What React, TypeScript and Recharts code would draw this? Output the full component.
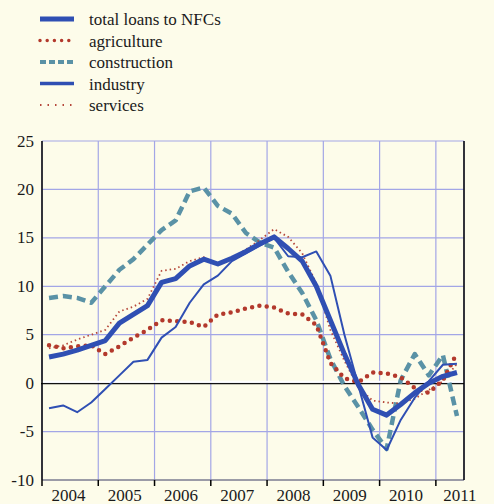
import { LineChart, Line, XAxis, YAxis, CartesianGrid, ReferenceLine, Legend } from 'recharts'

// Annual growth of loans to non-financial corporations, quarterly, 2004Q1 - 2011Q2
const years = ['2004', '2005', '2006', '2007', '2008', '2009', '2010', '2011']
const quarters = [
  '2004Q1', '2004Q2', '2004Q3', '2004Q4',
  '2005Q1', '2005Q2', '2005Q3', '2005Q4',
  '2006Q1', '2006Q2', '2006Q3', '2006Q4',
  '2007Q1', '2007Q2', '2007Q3', '2007Q4',
  '2008Q1', '2008Q2', '2008Q3', '2008Q4',
  '2009Q1', '2009Q2', '2009Q3', '2009Q4',
  '2010Q1', '2010Q2', '2010Q3', '2010Q4',
  '2011Q1', '2011Q2',
]

const totalLoans = [
  2.7, 3.0, 3.4, 3.9, 4.4, 6.2, 7.1, 8.0, 10.4, 10.8, 12.1, 12.8,
  12.3, 12.9, 13.6, 14.4, 15.1, 13.9, 12.6, 10.0, 6.5, 3.0, -0.2, -2.7,
  -3.3, -2.2, -1.0, 0.0, 0.7, 1.1,
]
const agriculture = [
  3.9, 3.6, 3.8, 3.9, 3.0, 3.8, 4.7, 5.5, 6.5, 6.4, 6.3, 5.8,
  7.1, 7.3, 7.7, 8.0, 7.8, 7.2, 7.1, 6.0, 2.1, 0.5, 0.1, 1.1,
  1.0, 0.6, -0.5, -1.0, 0.3, 3.1,
]
const construction = [
  8.8, 9.0, 8.8, 8.3, 10.0, 11.7, 12.8, 14.3, 15.8, 16.8, 19.8, 20.2,
  18.3, 17.5, 15.5, 14.5, 14.0, 11.5, 9.3, 6.5, 2.5, -0.3, -2.5, -4.8,
  -6.8, 0.3, 3.0, 0.8, 2.9, -3.4,
]
const industry = [
  -2.6, -2.3, -3.0, -2.0, -0.6, 0.8, 2.2, 2.4, 4.7, 5.8, 8.3, 10.2,
  11.1, 12.6, 13.4, 14.2, 15.0, 13.1, 13.0, 13.6, 11.1, 5.0, -0.3, -5.6,
  -6.9, -3.8, -1.5, 0.2, 1.9, 2.0,
]
const services = [
  3.6, 3.9, 4.5, 5.0, 5.5, 7.4, 7.9, 8.7, 11.6, 11.8, 12.6, 13.0,
  12.2, 12.9, 13.8, 14.8, 15.9, 15.1, 13.4, 10.3, 5.5, 2.3, -0.5, -1.8,
  -2.0, -2.1, -1.6, -0.7, 0.2, 2.0,
]

const yTicks = [-10, -5, 0, 5, 10, 15, 20, 25]
const yearTicks = years.map((_, i) => i * 4)

const data = quarters.map((q, i) => ({
  q,
  x: i + 0.5,
  total: totalLoans[i],
  agriculture: agriculture[i],
  construction: construction[i],
  industry: industry[i],
  services: services[i],
}))

const BLUE = '#2f4fb3'
const RED = '#b3392c'
const TEAL = '#5a92a6'
const FONT = "'Liberation Serif', 'Times New Roman', Times, 'DejaVu Serif', serif"
const textStyle = { fontFamily: FONT, fontSize: 17 }

const series = [
  { key: 'construction', name: 'construction', color: TEAL, width: 4.5, dash: '9 5', cap: 'butt', legendWidth: 4, legendDash: '6 3' },
  { key: 'agriculture', name: 'agriculture', color: RED, width: 4.5, dash: '0 7.4', cap: 'round', legendWidth: 3.5, legendDash: '0 7.2' },
  { key: 'services', name: 'services', color: '#b5473a', width: 1.8, dash: '1.5 3', cap: 'butt', legendWidth: 1.8, legendDash: '1.5 6' },
  { key: 'industry', name: 'industry', color: BLUE, width: 2, dash: undefined, cap: 'butt', legendWidth: 3.5, legendDash: undefined },
  { key: 'total', name: 'total loans to NFCs', color: BLUE, width: 5, dash: undefined, cap: 'butt', legendWidth: 5, legendDash: undefined },
]
const legendOrder = ['total', 'agriculture', 'construction', 'industry', 'services']

const LegendBox = () => (
  <svg width={260} height={120} style={{ display: 'block' }}>
    {legendOrder.map((k, i) => {
      const s = series.find(d => d.key === k)!
      const y = 19 + i * 21.5
      return (
        <g key={k}>
          <line x1={40} x2={74} y1={y} y2={y} stroke={s.color} strokeWidth={s.legendWidth}
            strokeDasharray={s.legendDash} strokeLinecap={s.cap as any} />
          <text x={89} y={y + 6} style={textStyle} fill="#1a1a1a">{s.name}</text>
        </g>
      )
    })}
  </svg>
)

const YearTick = (props: any) => {
  const { x, y, payload } = props
  const idx = Math.round(payload.value / 4)
  const off = idx === years.length - 1 ? 24 : 26.5
  return (
    <g>
      <line x1={x} x2={x} y1={y} y2={y + 6} stroke="#000" strokeWidth={1.5} />
      <text x={x + off} y={y + 20.5} textAnchor="middle" style={textStyle} fill="#1a1a1a">
        {years[idx]}
      </text>
    </g>
  )
}

const LeftTick = (props: any) => {
  const { y, payload } = props
  return (
    <text x={34} y={y + 5.5} textAnchor="end" style={textStyle} fill="#1a1a1a">
      {payload.value}
    </text>
  )
}

const RightTick = (props: any) => {
  const { x, y, payload } = props
  return (
    <text x={x + 8} y={y + 5.5} textAnchor="start" style={textStyle} fill="#1a1a1a">
      {payload.value}
    </text>
  )
}

const ZeroLine = (props: any) => {
  const { x1, x2, y1 } = props
  return (
    <g>
      <line x1={x1 - 1} x2={x2} y1={y1 - 1.5} y2={y1 - 1.5} stroke="#fff" strokeWidth={2} />
      <line x1={x1 - 1} x2={x2} y1={y1 + 0.5} y2={y1 + 0.5} stroke="#111" strokeWidth={1.2} />
    </g>
  )
}

export default function App() {
  return (
    <div style={{ position: 'absolute', left: 0, top: 0, width: 494, height: 504, background: '#fdfcea', overflow: 'hidden' }}>
      <LineChart width={494} height={504} data={data} margin={{ top: 141, right: 29, bottom: 23, left: 41 }}>
        <CartesianGrid yAxisId="left" stroke="#a3a6e6" strokeWidth={1.2} />
        <XAxis dataKey="x" type="number" domain={[0, 30]} ticks={yearTicks} height={1}
          stroke="#666" tickSize={0} tickMargin={0} tick={<YearTick />} interval={0} />
        <YAxis yAxisId="left" type="number" domain={[-10, 25]} ticks={yTicks} width={1}
          stroke="#000" strokeWidth={1.5} tickLine={false} tickSize={0} tickMargin={0} tick={<LeftTick />} interval={0} />
        <YAxis yAxisId="right" orientation="right" type="number" domain={[-10, 25]} ticks={yTicks} width={1}
          stroke="#000" strokeWidth={1.5} tickLine={false} tickSize={0} tickMargin={0} tick={<RightTick />} interval={0} />
        <ReferenceLine yAxisId="left" y={0} shape={<ZeroLine />} />
        {series.map(s => (
          <Line key={s.key} yAxisId="left" type="linear" dataKey={s.key} name={s.name} stroke={s.color}
            strokeWidth={s.width} strokeDasharray={s.dash} strokeLinecap={s.cap as any} strokeLinejoin="round"
            dot={false} activeDot={false} isAnimationActive={false} />
        ))}
        <Legend layout="vertical" align="center" verticalAlign="middle" content={<LegendBox />}
          wrapperStyle={{ position: 'absolute', left: 0, top: 0, width: 260, height: 120 }} />
      </LineChart>
    </div>
  )
}
